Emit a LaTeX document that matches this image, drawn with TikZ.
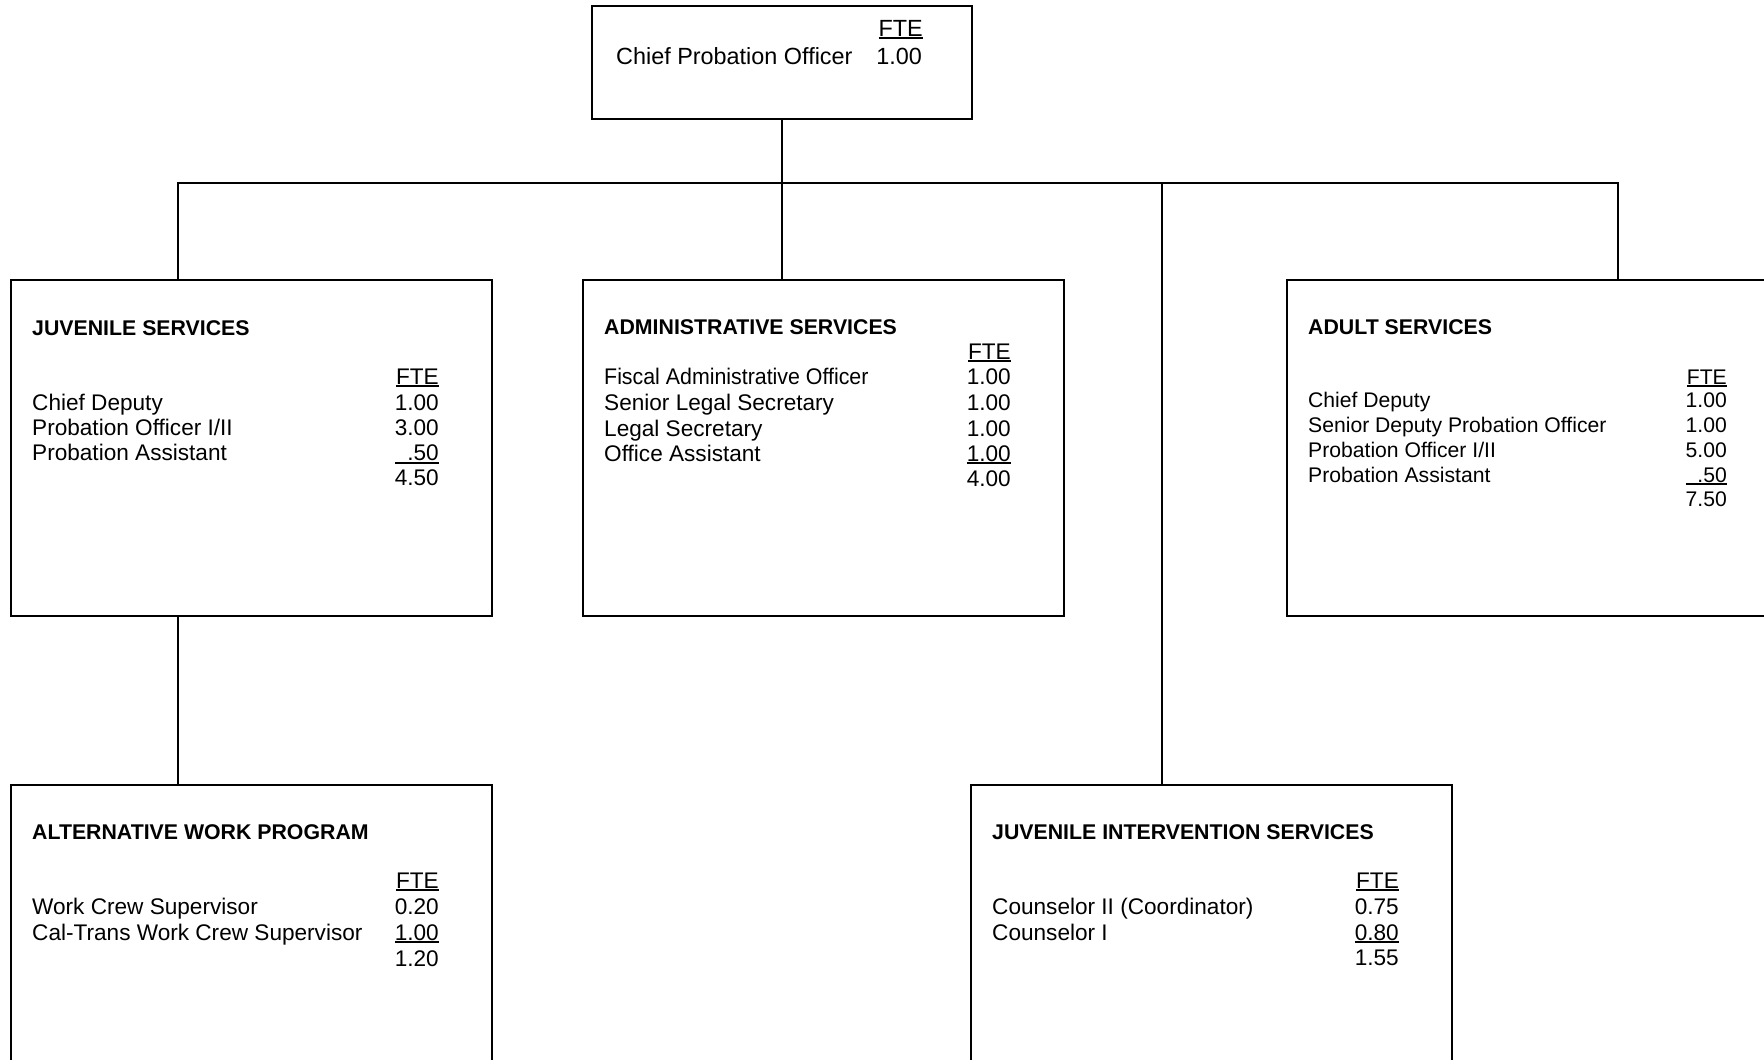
\documentclass[tikz,border=0pt]{standalone}
\usepackage{fontspec}
\setmainfont{Liberation Sans}
\newcommand\fteul[1]{\setbox0\hbox{#1}\rlap{\rule[-3.4pt]{\wd0}{2pt}}\box0}
\newcommand\fteulpad[1]{\setbox2\hbox{0.00}\fteul{\hbox to \wd2{\hfil#1}}}
\tikzset{
  orgbox/.style={draw, line width=2.2pt, rectangle, inner sep=0pt, anchor=north west, minimum width=481pt, minimum height=336pt},
  wire/.style={line width=2.2pt},
  lbl/.style={inner sep=0pt, anchor=base west, font=\fontsize{22.6}{25}\selectfont},
  num/.style={inner sep=0pt, anchor=base east, font=\fontsize{22.6}{25}\selectfont},
  ttl/.style={inner sep=0pt, anchor=base west, font=\fontsize{21.3}{25}\selectfont\bfseries},
  small/.style={font=\fontsize{21.15}{24}\selectfont},
  big/.style={font=\fontsize{23.4}{26}\selectfont}
}
\begin{document}
\begin{tikzpicture}[x=1pt,y=-1pt]
\useasboundingbox (0,0) rectangle (1764,1060);
\clip (0,0) rectangle (1764,1060);
\fill[white] (0,0) rectangle (1764,1060);

% boxes
\node[orgbox, minimum width=380pt, minimum height=113pt] (top) at (591,5) {};
\node[orgbox] (juv) at (10,279) {};
\node[orgbox] (adm) at (582,279) {};
\node[orgbox] (adult) at (1286,279) {};
\node[orgbox] (alt) at (10,783.5) {};
\node[orgbox] (jis) at (970,783.5) {};

% connectors
\coordinate (busL) at (178,183);
\coordinate (busR) at (1618,183);
\coordinate (jtap) at (1162,183);
\draw[wire] (busL |- juv.north) -- (busL) -- (busR) -- (busR |- adult.north);
\draw[wire] (top.south) -- (top.south |- adm.north);
\draw[wire] (jtap) -- (jtap |- jis.north);
\draw[wire] (busL |- juv.south) -- (busL |- alt.north);

% top box text
\node[lbl, big] (t1) at (616,64) {Chief Probation Officer};
\node[num, big] (t2) at (923,36) {\fteul{FTE}};
\node[num, big] (t3) at (922,64) {1.00};

% juvenile services
\node[ttl] (j0) at (32,335) {JUVENILE SERVICES};
\node[num] (jf) at (439,384) {\fteul{FTE}};
\node[lbl] (j1) at (32,410) {Chief Deputy};
\node[num] (j1n) at (439,410) {1.00};
\node[lbl] (j2) at (32,435.5) {Probation Officer I/II};
\node[num] (j2n) at (439,435.5) {3.00};
\node[lbl] (j3) at (32,460.5) {Probation Assistant};
\node[num] (j3n) at (439,460.5) {\fteulpad{.50}};
\node[num] (j4n) at (439,485.5) {4.50};

% administrative services
\node[ttl] (a0) at (604,334) {ADMINISTRATIVE SERVICES};
\node[num] (af) at (1011,359) {\fteul{FTE}};
\node[lbl] (a1) at (604,384) {\scalebox{0.945}[1]{Fiscal Administrative Officer}};
\node[num] (a1n) at (1011,384) {1.00};
\node[lbl] (a2) at (604,410) {Senior Legal Secretary};
\node[num] (a2n) at (1011,410) {1.00};
\node[lbl] (a3) at (604,436) {Legal Secretary};
\node[num] (a3n) at (1011,436) {1.00};
\node[lbl] (a4) at (604,461) {Office Assistant};
\node[num] (a4n) at (1011,461) {\fteul{1.00}};
\node[num] (a5n) at (1011,486.5) {4.00};

% adult services
\node[ttl] (d0) at (1308,334) {ADULT SERVICES};
\node[num, small] (df) at (1727,384) {\fteul{FTE}};
\node[lbl, small] (d1) at (1308,407) {Chief Deputy};
\node[num, small] (d1n) at (1727,407) {1.00};
\node[lbl, small] (d2) at (1308,432.5) {Senior Deputy Probation Officer};
\node[num, small] (d2n) at (1727,432.5) {1.00};
\node[lbl, small] (d3) at (1308,457) {Probation Officer I/II};
\node[num, small] (d3n) at (1727,457) {5.00};
\node[lbl, small] (d4) at (1308,482) {Probation Assistant};
\node[num, small] (d4n) at (1727,482) {\fteulpad{.50}};
\node[num, small] (d5n) at (1727,506) {7.50};

% alternative work program
\node[ttl] (w0) at (32,839) {ALTERNATIVE WORK PROGRAM};
\node[num] (wf) at (439,888) {\fteul{FTE}};
\node[lbl] (w1) at (32,914) {Work Crew Supervisor};
\node[num] (w1n) at (439,914) {0.20};
\node[lbl] (w2) at (32,940) {Cal-Trans Work Crew Supervisor};
\node[num] (w2n) at (439,940) {\fteul{1.00}};
\node[num] (w3n) at (439,966) {1.20};

% juvenile intervention services
\node[ttl] (i0) at (992,839) {JUVENILE INTERVENTION SERVICES};
\node[num] (if) at (1399,888) {\fteul{FTE}};
\node[lbl] (i1) at (992,914) {Counselor II (Coordinator)};
\node[num] (i1n) at (1399,914) {0.75};
\node[lbl] (i2) at (992,940) {Counselor I};
\node[num] (i2n) at (1399,940) {\fteul{0.80}};
\node[num] (i3n) at (1399,965) {1.55};
\end{tikzpicture}
\end{document}
